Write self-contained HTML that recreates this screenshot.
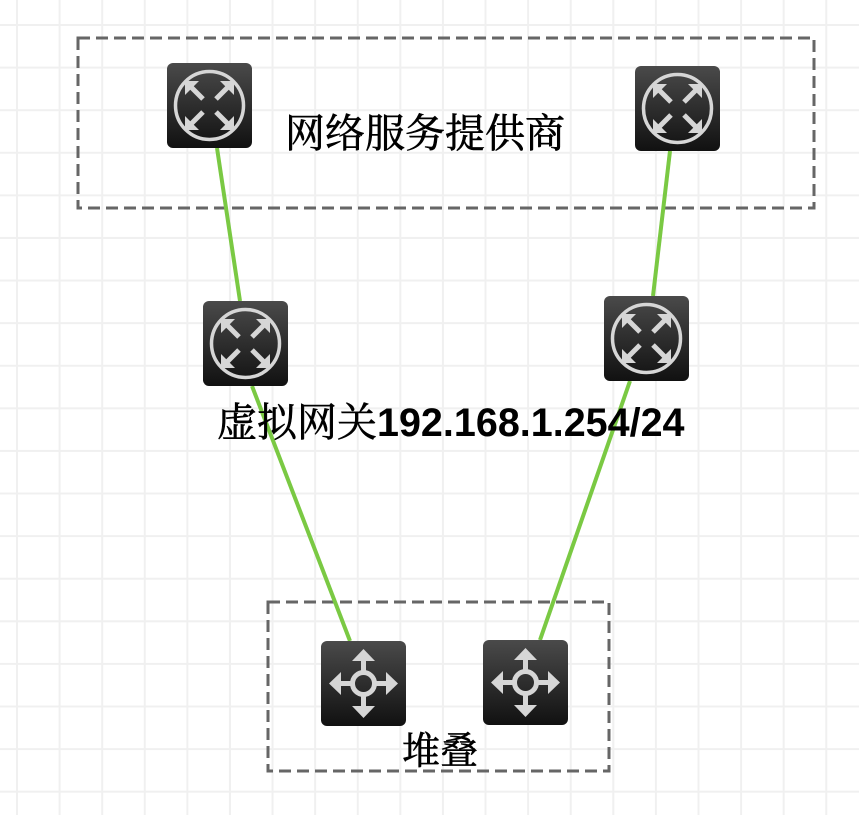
<!DOCTYPE html>
<html><head><meta charset="utf-8"><style>
body{margin:0;width:859px;height:815px;overflow:hidden;background:#fff;
background-image:linear-gradient(to right,#f0f0f0 0,#f0f0f0 2px,transparent 2px),linear-gradient(to bottom,#f0f0f0 0,#f0f0f0 2px,transparent 2px);
background-size:42.6px 42.6px;background-position:16px 24px;}
</style></head><body>
<svg width="859" height="815" style="position:absolute;left:0;top:0" font-family="'Liberation Serif','Noto Serif CJK SC',serif">
<defs>
<linearGradient id="g" x1="0" y1="0" x2="0" y2="1"><stop offset="0" stop-color="#4a4a4a"/><stop offset="1" stop-color="#111"/></linearGradient>
<g id="r">
<rect x="0" y="0" width="85" height="85" rx="6" fill="url(#g)"/>
<circle cx="42.5" cy="42.5" r="34" fill="none" stroke="#d6d6d6" stroke-width="3.5"/>
<g stroke="#d6d6d6" stroke-width="5" fill="none">
<path d="M22 22 L36 36 M63 22 L49 36 M22 63 L36 49 M63 63 L49 49"/>
</g>
<g fill="#d6d6d6">
<polygon points="18,18 32,18 18,32"/><polygon points="67,18 53,18 67,32"/><polygon points="18,67 32,67 18,53"/><polygon points="67,67 53,67 67,53"/>
</g>
</g>
<g id="s">
<rect x="0" y="0" width="85" height="85" rx="6" fill="url(#g)"/>
<circle cx="42.5" cy="42.5" r="11" fill="none" stroke="#d6d6d6" stroke-width="5"/>
<g stroke="#d6d6d6" stroke-width="5"><path d="M42.5 14 V31 M42.5 54 V71 M14 42.5 H31 M54 42.5 H71"/></g>
<g fill="#d6d6d6">
<polygon points="42.5,8 31,20 54,20"/><polygon points="42.5,77 31,65 54,65"/><polygon points="8,42.5 20,31 20,54"/><polygon points="77,42.5 65,31 65,54"/>
</g>
</g>
</defs>
<g fill="none" stroke="#666" stroke-width="3" stroke-dasharray="12,6">
<rect x="78" y="38" width="736" height="170"/>
<rect x="268" y="602" width="341" height="169"/>
</g>
<g stroke="#7ac943" stroke-width="4">
<line x1="217" y1="148" x2="240" y2="301"/><line x1="670" y1="151" x2="653" y2="296"/>
<line x1="252" y1="386" x2="350" y2="641"/><line x1="630" y1="381" x2="540" y2="640"/>
</g>
<use href="#r" x="167" y="63"/><use href="#r" x="635" y="66"/>
<use href="#r" x="203" y="301"/><use href="#r" x="604" y="296"/>
<use href="#s" x="321" y="641"/><use href="#s" x="483" y="640"/>
<g stroke="#000" stroke-width="0.6">
<text x="425" y="147" font-size="40" text-anchor="middle">网络服务提供商</text>
<text x="217" y="436" font-size="40">虚拟网关<tspan font-family="'Liberation Sans',sans-serif" font-weight="bold" font-size="39.5" stroke-width="0">192.168.1.254/24</tspan></text>
<text x="440" y="764" font-size="38" text-anchor="middle">堆叠</text>
</g>
</svg>
</body></html>
